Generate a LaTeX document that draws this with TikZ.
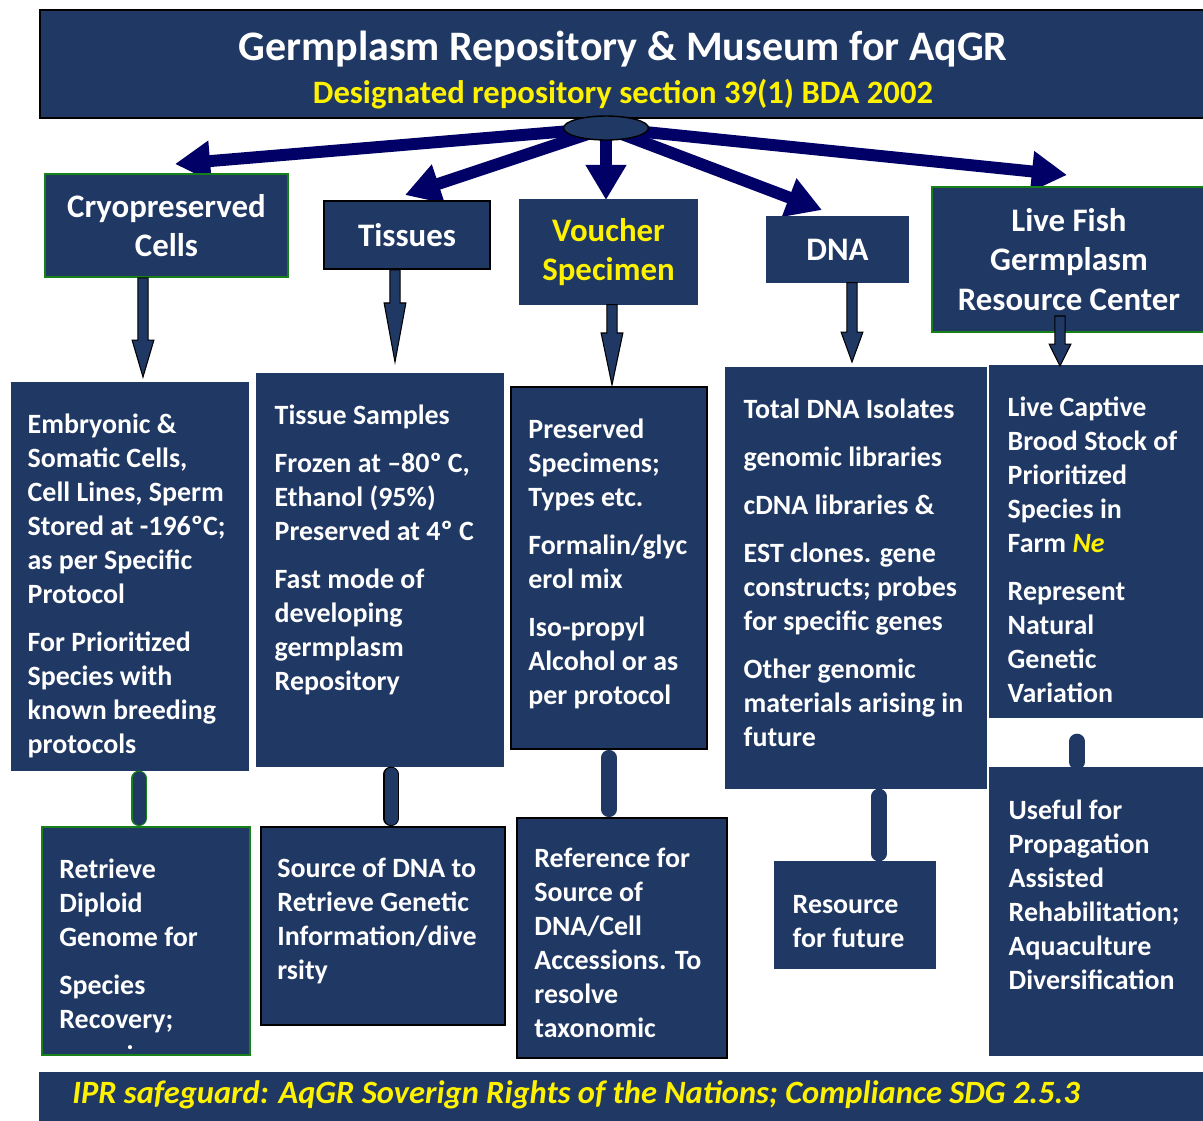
\documentclass[tikz,border=0pt]{standalone}
\usepackage{fontspec}
\setmainfont{Carlito}
\usepackage{xcolor}
\usepackage{tikz}
\usetikzlibrary{arrows.meta,shapes.geometric,calc,backgrounds,positioning}

\definecolor{boxblue}{RGB}{32,56,100}
\definecolor{arrowblue}{RGB}{0,0,102}
\definecolor{edgegreen}{RGB}{24,128,24}

\begin{document}
\begin{tikzpicture}[x=0.02cm, y=-0.02cm,
  box/.style={rectangle, fill=boxblue, draw=boxblue, line width=0.8pt, inner sep=0pt},
  greenbox/.style={box, draw=edgegreen, line width=1.1pt},
  blackbox/.style={box, draw=black, line width=1.1pt},
  headtext/.style={text=white, align=center, font=\fontsize{18.7}{22.4}\selectfont\bfseries},
  bodytext/.style={text=white, align=left, anchor=north west, inner sep=0pt, font=\fontsize{15.9}{19.35}\selectfont\bfseries},
  bigarrow/.style={arrowblue, line width=6.8pt, -{Triangle[length=20pt,width=22pt]}},
  downarrow/.style={draw=black, fill=boxblue, line width=0.6pt,
    to path={let \p1=(\tikztostart), \p2=(\tikztotarget) in
      (\x1-2.9pt,\y1) -- (\x1+2.9pt,\y1) -- (\x1+2.9pt,\y2+#1) -- (\x1+6.2pt,\y2+#1)
      -- (\x1,\y2) -- (\x1-6.2pt,\y2+#1) -- (\x1-2.9pt,\y2+#1) -- cycle}},
  link/.style={double=boxblue, double distance=7.4pt, line width=0.6pt, line cap=round}]
\useasboundingbox (0,0) rectangle (1203,1120);
\clip (0,0) rectangle (1203,1120);

% Header banner
\node[box, draw=black, line width=1.1pt, minimum width=23.4cm, minimum height=2.16cm] (banner) at (625,64) {};
\node[text=white, font=\fontsize{23.9}{28}\selectfont\bfseries] (title) at (623,49) {Germplasm Repository \& Museum for AqGR};
\node[text=yellow, font=\fontsize{18.6}{22}\selectfont\bfseries] (subtitle) at (623,94) {Designated repository section 39(1) BDA 2002};
\node[ellipse, draw=black, fill=boxblue, line width=0.8pt, inner sep=0pt, minimum width=1.7cm, minimum height=0.48cm] (hub) at (606,128) {};

% Main branches
\coordinate (cryoTip) at (175,164);
\coordinate (tissuesTip) at (405,195);
\coordinate (voucherTip) at (606,200);
\coordinate (dnaTip) at (822,210);
\coordinate (liveTip) at (1067,175);
\begin{scope}[on background layer]
\foreach \tip in {cryoTip,tissuesTip,voucherTip,dnaTip,liveTip}
  \draw[bigarrow] (hub.center) -- (\tip);
\end{scope}

% Categories
\node[greenbox, headtext, minimum width=4.86cm, minimum height=2.06cm] (cryo) at (166.5,225.5) {Cryopreserved\\Cells};
\node[blackbox, headtext, minimum width=3.32cm, minimum height=1.36cm] (tissues) at (407,235) {Tissues};
\node[box, headtext, text=yellow, minimum width=3.54cm, minimum height=2.08cm] (voucher) at (608.5,252) {Voucher\\Specimen};
\node[box, headtext, minimum width=2.82cm, minimum height=1.30cm] (dna) at (837.5,249.5) {DNA};
\node[greenbox, headtext, minimum width=5.48cm, minimum height=2.90cm] (live) at (1069,259.5) {Live Fish\\Germplasm\\Resource Center};

% Holdings
\node[box, minimum width=4.72cm, minimum height=7.74cm] (cryoInfo) at (130,576.5) {};
\node[box, minimum width=4.92cm, minimum height=7.84cm] (tissuesInfo) at (380,570) {};
\node[blackbox, minimum width=3.92cm, minimum height=7.24cm] (voucherInfo) at (609,568) {};
\node[box, minimum width=5.20cm, minimum height=8.40cm] (dnaInfo) at (856,578) {};
\node[box, minimum width=4.32cm, minimum height=7.02cm] (liveInfo) at (1098,541.5) {};

\node[bodytext] (cryoInfoText) at ([shift={(16,31)}]cryoInfo.north west)
  {Embryonic \&\\Somatic Cells,\\Cell Lines, Sperm\\Stored at -196ºC;\\as per Specific\\Protocol\\[8pt]
   For Prioritized\\Species with\\known breeding\\protocols};
\node[bodytext] (tissuesInfoText) at ([shift={(18,31)}]tissuesInfo.north west)
  {Tissue Samples\\[8pt]Frozen at –80º C,\\Ethanol (95\%)\\Preserved at 4º C\\[8pt]
   Fast mode of\\developing\\germplasm\\Repository};
\node[bodytext] (voucherInfoText) at ([shift={(18,32)}]voucherInfo.north west)
  {Preserved\\Specimens;\\Types etc.\\[8pt]Formalin/glyc\\erol mix\\[8pt]
   Iso-propyl\\Alcohol or as\\per protocol};
\node[bodytext] (dnaInfoText) at ([shift={(18,31)}]dnaInfo.north west)
  {Total DNA Isolates\\[8pt]genomic libraries\\[8pt]cDNA libraries \&\\[8pt]
   EST clones. gene\\constructs; probes\\for specific genes\\[8pt]
   Other genomic\\materials arising in\\future};
\node[bodytext] (liveInfoText) at ([shift={(18,31)}]liveInfo.north west)
  {Live Captive\\Brood Stock of\\Prioritized\\Species in\\Farm {\color{yellow}\itshape Ne}\\[8pt]
   Represent\\Natural\\Genetic\\Variation};

% Uses
\node[greenbox, minimum width=4.16cm, minimum height=4.56cm] (cryoUse) at (146,941) {};
\node[blackbox, minimum width=4.88cm, minimum height=3.96cm] (tissuesUse) at (383,926) {};
\node[blackbox, minimum width=4.20cm, minimum height=4.80cm] (voucherUse) at (622,938) {};
\node[box, minimum width=3.20cm, minimum height=2.12cm] (dnaUse) at (855,915) {};
\node[box, minimum width=4.32cm, minimum height=5.74cm] (liveUse) at (1098,911.5) {};

\node[bodytext] (cryoUseText) at ([shift={(18,32)}]cryoUse.north west)
  {Retrieve\\Diploid\\Genome for\\[8pt]Species\\Recovery;};
\node[text=white, inner sep=0pt, anchor=base, font=\fontsize{15.9}{19.35}\selectfont\bfseries] (cryoUseDot) at (130,1049) {.};
\node[bodytext] (tissuesUseText) at ([shift={(17,32)}]tissuesUse.north west)
  {Source of DNA to\\Retrieve Genetic\\Information/dive\\rsity};
\node[bodytext] (voucherUseText) at ([shift={(18,31)}]voucherUse.north west)
  {Reference for\\Source of\\DNA/Cell\\Accessions. To\\resolve\\taxonomic};
\node[bodytext] (dnaUseText) at ([shift={(18,34)}]dnaUse.north west)
  {Resource\\for future};
\node[bodytext] (liveUseText) at ([shift={(19,32)}]liveUse.north west)
  {Useful for\\Propagation\\Assisted\\Rehabilitation;\\Aquaculture\\Diversification};

% Small down arrows
\coordinate (cryoIn) at (143,377);
\coordinate (tissuesIn) at (395,362);
\coordinate (voucherIn) at (612,385);
\coordinate (dnaIn) at (852,362);
\coordinate (liveOut) at (1060,316);
\coordinate (liveIn) at (1060,366);
\foreach \from/\to/\head in {cryo/cryoIn/21pt, tissues/tissuesIn/33.6pt, voucher/voucherIn/29.6pt, dna/dnaIn/17pt}
  \draw[downarrow=\head] (\from.south -| \to) to (\to);
\draw[downarrow=12.5pt] (liveOut) to (liveIn);

% Links to uses
\coordinate (cryoLink) at (139,0);
\coordinate (tissuesLink) at (391,0);
\coordinate (voucherLink) at (609,0);
\coordinate (dnaLink) at (879,0);
\coordinate (liveLink) at (1077,0);
\foreach \up/\down/\xc/\col in {cryoInfo/cryoUse/cryoLink/edgegreen, tissuesInfo/tissuesUse/tissuesLink/black,
  voucherInfo/voucherUse/voucherLink/boxblue, dnaInfo/dnaUse/dnaLink/boxblue}
  \draw[link, draw=\col, shorten <=4.3pt, shorten >=4.3pt] (\up.south -| \xc) -- (\down.north -| \xc);
\draw[link, draw=boxblue, shorten <=13.4pt, shorten >=3pt] (liveInfo.south -| liveLink) -- (liveUse.north -| liveLink);

% Footer
\node[box, minimum width=23.4cm, minimum height=1.04cm] (footer) at (625,1099) {};
\node[text=yellow, anchor=west, inner sep=0pt, font=\fontsize{18.5}{22}\selectfont\bfseries\itshape] (footnote) at (72,1095)
  {IPR safeguard: AqGR Soverign Rights of the Nations; Compliance SDG 2.5.3};
\end{tikzpicture}
\end{document}
